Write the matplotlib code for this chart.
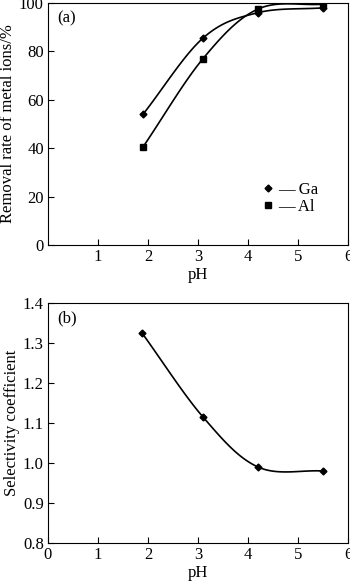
import numpy as np
import matplotlib
matplotlib.use("Agg")
import matplotlib.pyplot as plt

# data
ph = [1.9, 3.1, 4.2, 5.5]
ga_removal = [54.0, 85.5, 96.0, 98.0]
al_removal = [40.5, 77.0, 97.5, 99.5]

ph_b = [1.88, 3.1, 4.2, 5.5]
selectivity = [1.325, 1.115, 0.99, 0.98]


def smooth(x, y, n=30):
    """Catmull-Rom curve through the points, for drawing the line only"""
    x = np.asarray(x, float)
    y = np.asarray(y, float)
    px = np.concatenate([[2 * x[0] - x[1]], x, [2 * x[-1] - x[-2]]])
    py = np.concatenate([[2 * y[0] - y[1]], y, [2 * y[-1] - y[-2]]])
    xs, ys = [], []
    for i in range(1, len(px) - 2):
        t = np.linspace(0, 1, n)
        t2, t3 = t * t, t * t * t
        for p, out in ((px, xs), (py, ys)):
            p0, p1, p2, p3 = p[i - 1], p[i], p[i + 1], p[i + 2]
            out.extend(0.5 * (2 * p1 + (-p0 + p2) * t
                              + (2 * p0 - 5 * p1 + 4 * p2 - p3) * t2
                              + (-p0 + 3 * p1 - 3 * p2 + p3) * t3))
    return np.array(xs), np.array(ys)


plt.rcParams['font.family'] = ['Liberation Serif', 'DejaVu Serif']
plt.rcParams['font.size'] = 12
plt.rcParams['axes.linewidth'] = 0.8
plt.rcParams['xtick.direction'] = 'in'
plt.rcParams['ytick.direction'] = 'in'

fig = plt.figure(figsize=(3.5, 5.83), dpi=100)
ax1 = fig.add_axes([48 / 350, 1 - 245 / 583, 300 / 350, 242 / 583])
ax2 = fig.add_axes([48 / 350, 1 - 543 / 583, 300 / 350, 240 / 583])

# (a)
sx, sy = smooth(ph, ga_removal)
ax1.plot(sx, sy, color='black', lw=1.2)
ax1.plot(ph, ga_removal, 'D', color='black', ms=3.5)
sx, sy = smooth(ph, al_removal)
ax1.plot(sx, sy, color='black', lw=1.2)
ax1.plot(ph, al_removal, 's', color='black', ms=4.5)
ax1.plot([], [], 'D', color='black', ms=3.5, label='Ga')
ax1.plot([], [], 's', color='black', ms=4.5, label='Al')
leg = ax1.legend(loc='lower left', bbox_to_anchor=(0.69, 0.09), frameon=False,
                 handlelength=0.6, handletextpad=0.3, labelspacing=0.05,
                 borderpad=0, fontsize=12)
for t in leg.get_texts():
    t.set_text('\u2014 ' + t.get_text())
ax1.set_xlim(0, 6)
ax1.set_ylim(0, 100)
ax1.set_xticks([1, 2, 3, 4, 5, 6])
ax1.set_yticks([0, 20, 40, 60, 80, 100])
ax1.set_xlabel('pH', labelpad=1)
ax1.set_ylabel('Removal rate of metal ions/%', labelpad=2)
ax1.text(0.03, 0.97, '(a)', transform=ax1.transAxes, va='top', ha='left')
ax1.tick_params(length=4, width=0.8, pad=3)

# (b)
sx, sy = smooth(ph_b, selectivity)
ax2.plot(sx, sy, color='black', lw=1.2)
ax2.plot(ph_b, selectivity, 'D', color='black', ms=3.5)
ax2.set_xlim(0, 6)
ax2.set_ylim(0.8, 1.4)
ax2.set_xticks([0, 1, 2, 3, 4, 5, 6])
ax2.set_yticks(np.arange(0.8, 1.41, 0.1))
ax2.set_yticklabels([f'{v:.1f}' for v in np.arange(0.8, 1.41, 0.1)])
ax2.set_xlabel('pH', labelpad=1)
ax2.set_ylabel('Selectivity coefficient', labelpad=2)
ax2.text(0.03, 0.97, '(b)', transform=ax2.transAxes, va='top', ha='left')
ax2.tick_params(length=4, width=0.8, pad=3)

fig.savefig('out.png', dpi=100)
